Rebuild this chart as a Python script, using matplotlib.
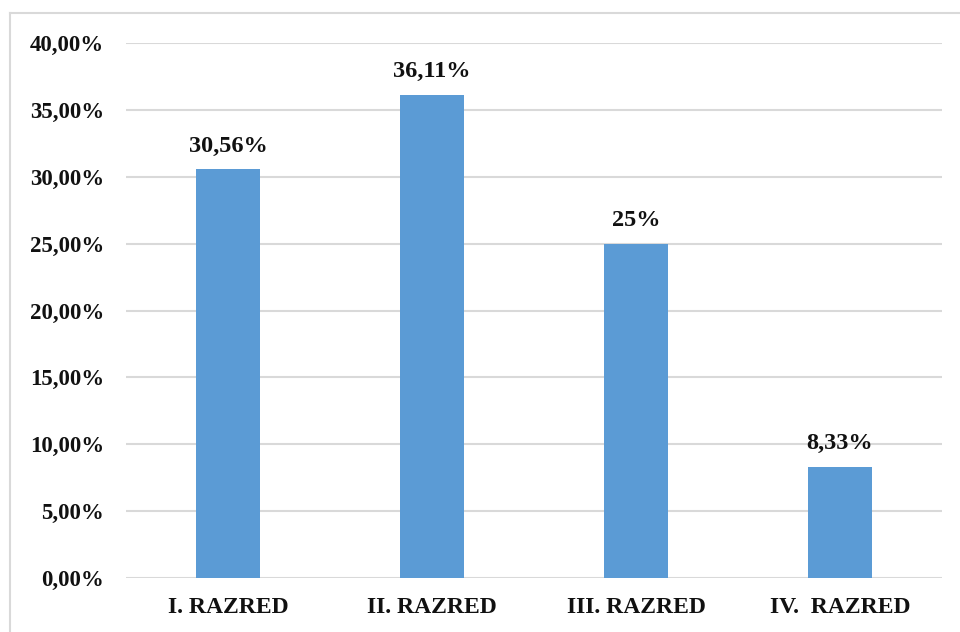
import matplotlib.pyplot as plt
from matplotlib.lines import Line2D

categories = ["I. RAZRED", "II. RAZRED", "III. RAZRED", "IV.  RAZRED"]
values = [30.56, 36.11, 25.0, 8.33]
labels = ["30,56%", "36,11%", "25%", "8,33%"]
yticks = [0, 5, 10, 15, 20, 25, 30, 35, 40]

plt.rcParams['font.family'] = ['Liberation Serif', 'DejaVu Serif']
plt.rcParams['font.weight'] = 'bold'

fig = plt.figure(figsize=(9.6, 6.32), dpi=100, facecolor='w')
ax = fig.add_axes([126/960, 1 - 578/632, 816/960, 535/632])

x = range(len(categories))
bars = ax.bar(x, values, width=0.314, color="#5B9BD5", zorder=3)
for i, b in enumerate(bars):
    ax.text(b.get_x() + b.get_width()/2, values[i] + 0.95, labels[i],
            ha='center', va='bottom', fontsize=17.5, fontweight='bold', color='#111111')

ax.set_xlim(-0.5, len(categories) - 0.5)
ax.set_ylim(0, 40)
ax.set_yticks(yticks)
ax.set_yticklabels(["%d,00%%" % t for t in yticks], fontsize=16.5, fontweight='bold', color='#111111')
ax.set_xticks(list(x))
ax.set_xticklabels(categories, fontsize=17, fontweight='bold', color='#111111')
ax.tick_params(axis='y', length=0, pad=16)
ax.tick_params(axis='x', length=0, pad=14)
ax.grid(axis='y', color='#d9d9d9', linewidth=1.5, zorder=0)
for s in ax.spines.values():
    s.set_visible(False)

# outer chart border (left and top)
fig.add_artist(Line2D([10/960, 10/960], [0, 1 - 13/632], color='#d9d9d9', linewidth=1.5))
fig.add_artist(Line2D([10/960, 1], [1 - 13/632, 1 - 13/632], color='#d9d9d9', linewidth=1.5))

fig.savefig("out.png", dpi=100)
